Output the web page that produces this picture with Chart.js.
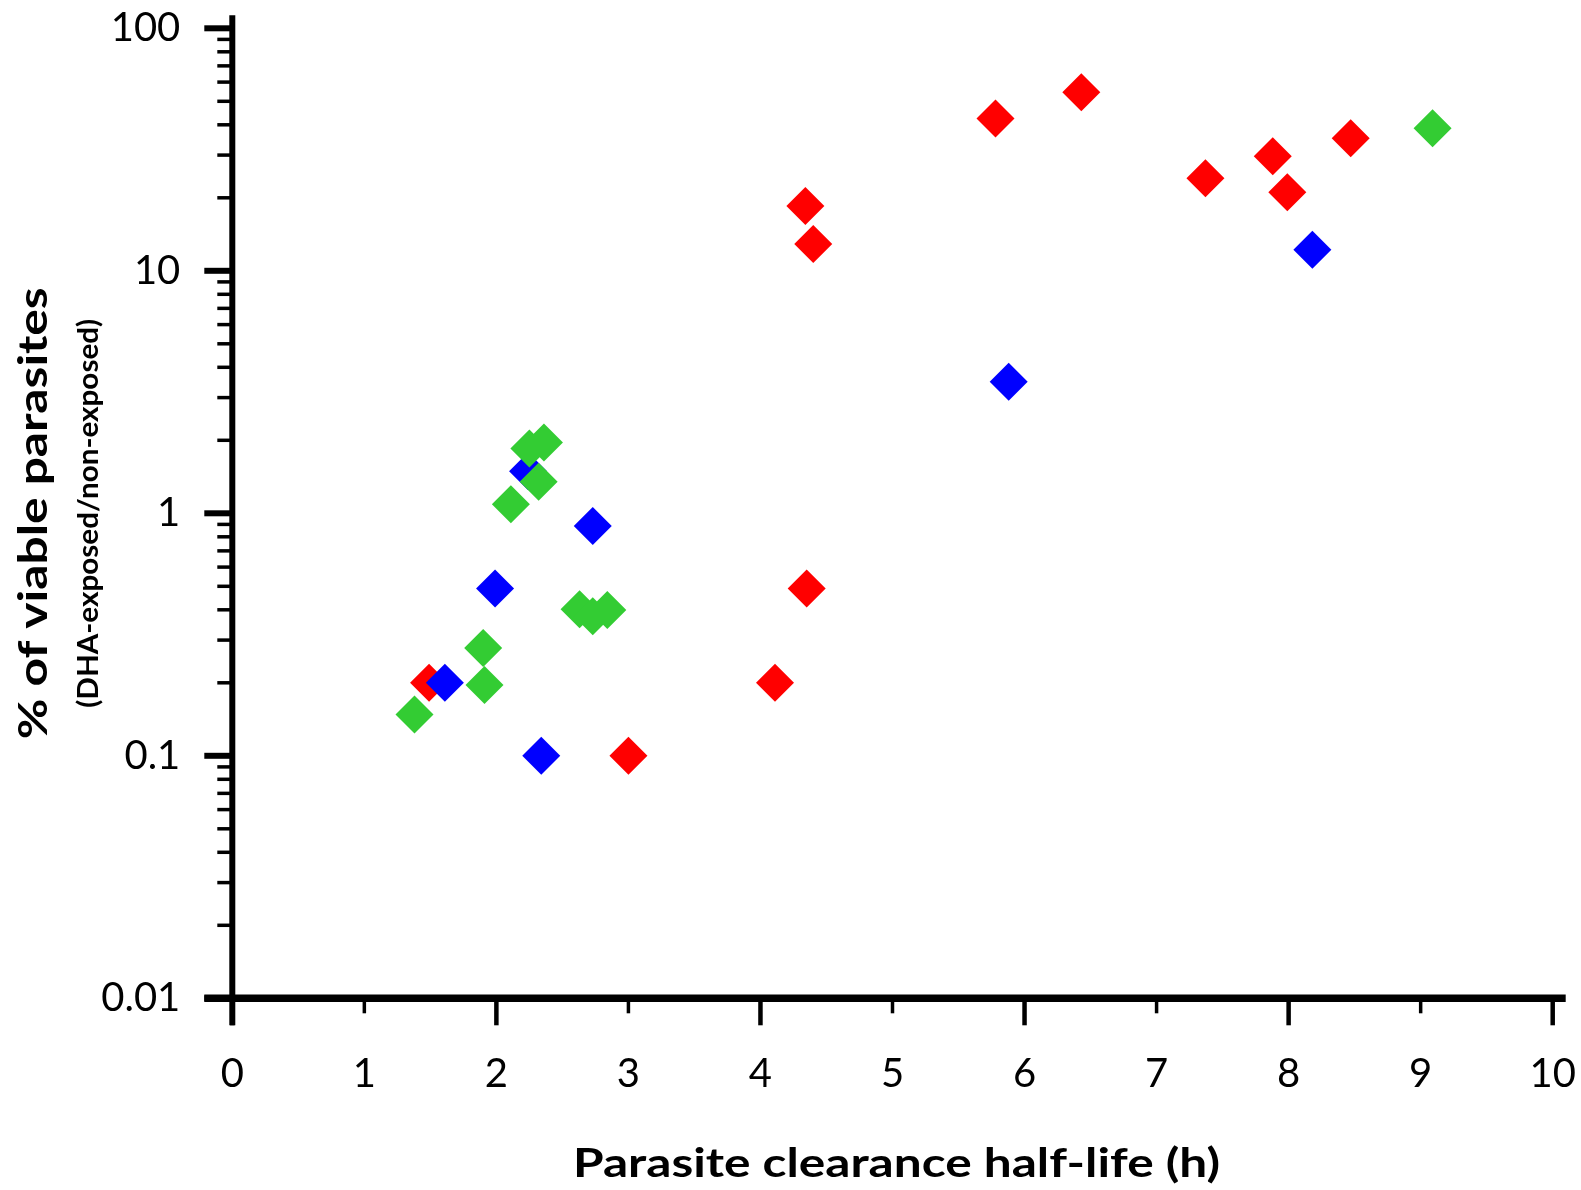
<!DOCTYPE html>
<html>
<head>
<meta charset="utf-8">
<script src="https://cdn.jsdelivr.net/npm/chart.js@4.4.1/dist/chart.umd.min.js"></script>
<style>
  html, body { margin: 0; padding: 0; background: #ffffff; overflow: hidden; }
  canvas { display: block; }
</style>
</head>
<body>
<canvas id="chart" width="1581" height="1190"></canvas>
<script>
// ---------- data ----------
const xTickValues = [0, 1, 2, 3, 4, 5, 6, 7, 8, 9, 10];
const yTickValues = [0.01, 0.1, 1, 10, 100];
const yTickLabels = ['0.01', '0.1', '1', '10', '100'];
const yMinorMultipliers = [2, 3, 4, 5, 6, 7, 8, 9];

const xTitle = 'Parasite clearance half-life (h)';
const yTitle = '% of viable parasites';
const ySubtitle = '(DHA-exposed/non-exposed)';

const redX = [1.49, 3.00, 4.11, 4.35, 4.34, 4.40, 5.78, 6.43, 7.37, 7.88, 7.99, 8.47];
const redY = [0.20, 0.10, 0.20, 0.49, 18.5, 12.9, 42.5, 54.5, 24.1, 29.7, 21.1, 35.2];

const blueX = [1.61, 1.99, 2.24, 2.34, 2.73, 5.88, 8.18];
const blueY = [0.20, 0.49, 1.49, 0.10, 0.886, 3.49, 12.2];

const greenX = [1.38, 1.90, 1.91, 2.11, 2.25, 2.36, 2.32, 2.63, 2.73, 2.84, 9.09];
const greenY = [0.148, 0.278, 0.196, 1.09, 1.85, 1.96, 1.35, 0.402, 0.376, 0.399, 38.7];

// ---------- helpers ----------
const toPoints = (xs, ys) => xs.map((x, i) => ({ x: x, y: ys[i] }));
const FONT = 'Lato, "Open Sans", "Noto Sans", sans-serif';

function strokeLine(ctx, x1, y1, x2, y2) {
  ctx.beginPath(); ctx.moveTo(x1, y1); ctx.lineTo(x2, y2); ctx.stroke();
}

const axesPlugin = {
  id: 'drawAxes',
  beforeDatasetsDraw(chart) {
    const { ctx } = chart;
    const xs = chart.scales.x, ys = chart.scales.y;
    const x0 = xs.getPixelForValue(xTickValues[0]);
    const xEnd = xs.getPixelForValue(xTickValues[xTickValues.length - 1]);
    const yTop = ys.getPixelForValue(yTickValues[yTickValues.length - 1]);
    const yBot = ys.getPixelForValue(yTickValues[0]);
    ctx.save();
    ctx.strokeStyle = '#000';
    ctx.lineCap = 'butt';
    // y axis line
    ctx.lineWidth = 6;
    strokeLine(ctx, x0, yTop - 13, x0, yBot + 27);
    // y major ticks
    yTickValues.forEach(v => {
      const p = ys.getPixelForValue(v);
      ctx.lineWidth = 6;
      strokeLine(ctx, x0 - 28, p, x0, p);
    });
    // y minor ticks
    for (let d = 0; d < yTickValues.length - 1; d++) {
      yMinorMultipliers.forEach(m => {
        const p = ys.getPixelForValue(m * yTickValues[d]);
        ctx.lineWidth = 3.5;
        strokeLine(ctx, x0 - 15, p, x0, p);
      });
    }
    // x axis line
    ctx.lineWidth = 7.5;
    strokeLine(ctx, x0 - 28, yBot, xEnd + 13, yBot);
    // x ticks
    xTickValues.forEach(v => {
      const p = xs.getPixelForValue(v);
      const major = v % 2 === 0;
      ctx.lineWidth = major ? 4.5 : 3.5;
      strokeLine(ctx, p, yBot, p, yBot + (major ? 27 : 15));
    });
    ctx.restore();
  }
};

function drawFittedText(ctx, text, font, targetWidth, tx, ty, rotation) {
  ctx.save();
  ctx.font = font;
  const w = ctx.measureText(text).width;
  ctx.translate(tx, ty);
  ctx.rotate(rotation);
  ctx.scale(targetWidth / w, 1);
  ctx.fillStyle = '#000';
  ctx.textAlign = 'center';
  ctx.textBaseline = 'alphabetic';
  ctx.fillText(text, 0, 0);
  ctx.restore();
}

const titlesPlugin = {
  id: 'axisTitles',
  afterDraw(chart) {
    const { ctx, chartArea } = chart;
    const cx = (chartArea.left + chartArea.right) / 2;
    const cy = (chartArea.top + chartArea.bottom) / 2;
    drawFittedText(ctx, xTitle, 'bold 41px ' + FONT, 647, cx + 4, 1177, 0);
    drawFittedText(ctx, yTitle, 'bold 40px ' + FONT, 452, 47, cy, -Math.PI / 2);
    drawFittedText(ctx, ySubtitle, 'bold 28px ' + FONT, 389, 98, cy, -Math.PI / 2);
  }
};

new Chart(document.getElementById('chart').getContext('2d'), {
  type: 'scatter',
  data: {
    datasets: [
      { label: 'red', data: toPoints(redX, redY), backgroundColor: '#FF0000', order: 3 },
      { label: 'blue', data: toPoints(blueX, blueY), backgroundColor: '#0000FF', order: 2 },
      { label: 'green', data: toPoints(greenX, greenY), backgroundColor: '#33CC33', order: 1 }
    ]
  },
  options: {
    responsive: false,
    animation: false,
    devicePixelRatio: 1,
    layout: { padding: { left: 0, right: 28.3, top: 28.3, bottom: 0 } },
    plugins: { legend: { display: false }, tooltip: { enabled: false } },
    elements: {
      point: { pointStyle: 'rectRot', radius: 19, hoverRadius: 19, borderWidth: 0, hoverBorderWidth: 0 }
    },
    datasets: { scatter: { clip: false } },
    scales: {
      x: {
        type: 'linear', min: 0, max: 10,
        grid: { display: false, drawTicks: true, tickLength: 52 },
        border: { display: false },
        ticks: {
          stepSize: 1, padding: 0, autoSkip: false, maxRotation: 0,
          color: '#000', font: { family: FONT, size: 40 }
        },
        afterBuildTicks: s => { s.ticks = xTickValues.map(v => ({ value: v })); },
        afterFit: s => { s.height = 191.7; }
      },
      y: {
        type: 'logarithmic', min: 0.01, max: 100,
        grid: { display: false, drawTicks: true, tickLength: 52 },
        border: { display: false },
        ticks: {
          padding: 0, autoSkip: false,
          color: '#000', font: { family: FONT, size: 40 },
          callback: v => {
            const i = yTickValues.findIndex(t => Math.abs(t - v) < t * 1e-6);
            return i >= 0 ? yTickLabels[i] : '';
          }
        },
        afterBuildTicks: s => { s.ticks = yTickValues.map(v => ({ value: v })); },
        afterFit: s => { s.width = 232.3; }
      }
    }
  },
  plugins: [axesPlugin, titlesPlugin]
});
</script>
</body>
</html>
